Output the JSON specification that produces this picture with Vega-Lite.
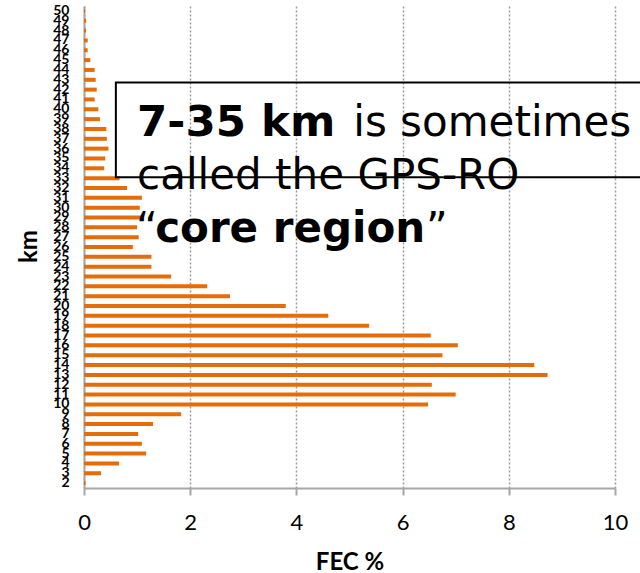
{
  "$schema": "https://vega.github.io/schema/vega-lite/v6.json",
  "width": 531,
  "height": 482,
  "autosize": {"type": "none"},
  "padding": {"left": 84, "top": 6, "right": 25, "bottom": 85},
  "background": "white",
  "config": {"view": {"stroke": null}, "font": "Lato", "axis": {"labelOverlap": false}},
  "resolve": {"scale": {"y": "independent"}, "axis": {"y": "independent"}},
  "layer": [
    {
      "data": {"values": [
        {"km": 2, "fec": 0.03}, {"km": 3, "fec": 0.32}, {"km": 4, "fec": 0.66}, {"km": 5, "fec": 1.17},
        {"km": 6, "fec": 1.09}, {"km": 7, "fec": 1.02}, {"km": 8, "fec": 1.30}, {"km": 9, "fec": 1.83},
        {"km": 10, "fec": 6.48}, {"km": 11, "fec": 7.00}, {"km": 12, "fec": 6.55}, {"km": 13, "fec": 8.73},
        {"km": 14, "fec": 8.48}, {"km": 15, "fec": 6.75}, {"km": 16, "fec": 7.04}, {"km": 17, "fec": 6.53},
        {"km": 18, "fec": 5.37}, {"km": 19, "fec": 4.60}, {"km": 20, "fec": 3.80}, {"km": 21, "fec": 2.75},
        {"km": 22, "fec": 2.32}, {"km": 23, "fec": 1.64}, {"km": 24, "fec": 1.27}, {"km": 25, "fec": 1.27},
        {"km": 26, "fec": 0.92}, {"km": 27, "fec": 1.03}, {"km": 28, "fec": 1.00}, {"km": 29, "fec": 1.07},
        {"km": 30, "fec": 1.05}, {"km": 31, "fec": 1.09}, {"km": 32, "fec": 0.81}, {"km": 33, "fec": 0.67},
        {"km": 34, "fec": 0.38}, {"km": 35, "fec": 0.40}, {"km": 36, "fec": 0.46}, {"km": 37, "fec": 0.43},
        {"km": 38, "fec": 0.42}, {"km": 39, "fec": 0.30}, {"km": 40, "fec": 0.27}, {"km": 41, "fec": 0.20},
        {"km": 42, "fec": 0.24}, {"km": 43, "fec": 0.22}, {"km": 44, "fec": 0.20}, {"km": 45, "fec": 0.12},
        {"km": 46, "fec": 0.07}, {"km": 47, "fec": 0.07}, {"km": 48, "fec": 0.04}, {"km": 49, "fec": 0.04},
        {"km": 50, "fec": 0.02}
      ]},
      "mark": {"type": "bar", "height": 4, "color": "#E46C0A"},
      "encoding": {
        "x": {
          "field": "fec", "type": "quantitative",
          "scale": {"domain": [0, 10], "nice": false},
          "axis": {
            "values": [0, 2, 4, 6, 8, 10],
            "title": "FEC %",
            "titleFont": "Lato", "titleFontSize": 24, "titleFontWeight": "bold", "titleColor": "black",
            "titleY": 81, "titleBaseline": "alphabetic",
            "labelFont": "Lato", "labelFontSize": 22, "labelColor": "black", "labelPadding": 17,
            "labelFlush": false,
            "grid": true, "gridColor": "#9a9a9a", "gridDash": [2, 2], "gridWidth": 1.5,
            "domainColor": "#a6a6a6", "domainWidth": 2,
            "ticks": true, "tickColor": "#a6a6a6", "tickWidth": 2, "tickSize": 7
          }
        },
        "y": {
          "field": "km", "type": "ordinal", "sort": "descending",
          "scale": {"paddingInner": 0, "paddingOuter": 0},
          "axis": {
            "labelOverlap": false,
            "title": "km",
            "titleFont": "Lato", "titleFontSize": 24, "titleFontWeight": "bold", "titleColor": "black",
            "titleX": -55, "titleY": 240, "titleAngle": 270, "titleAlign": "center", "titleBaseline": "middle",
            "labelFont": "Lato", "labelFontSize": 14, "labelFontWeight": "bold", "labelColor": "black",
            "labelPadding": 15,
            "grid": false, "ticks": false, "tickSize": 0,
            "domainColor": "#a6a6a6", "domainWidth": 2
          }
        }
      }
    },
    {
      "layer": [
        {
          "data": {"values": [{}]},
          "mark": {"type": "rect", "fillOpacity": 0, "stroke": "black", "strokeWidth": 2},
          "encoding": {
            "x": {"datum": 0.6, "type": "quantitative"},
            "x2": {"datum": 11},
            "y": {"datum": 42.73, "type": "quantitative", "scale": {"domain": [1.5, 50.5], "nice": false, "zero": false}, "axis": null},
            "y2": {"datum": 33.1}
          }
        },
        {
          "data": {"values": [{"label": "7-35 km"}]},
          "mark": {"type": "text", "font": "DejaVu Sans", "fontSize": 43.5, "fontWeight": "bold", "align": "left", "baseline": "alphabetic", "color": "black"},
          "encoding": {
            "x": {"datum": 1.0, "type": "quantitative"},
            "y": {"datum": 37.28, "type": "quantitative", "scale": {"domain": [1.5, 50.5], "nice": false, "zero": false}, "axis": null},
            "text": {"field": "label"}
          }
        },
        {
          "data": {"values": [{"label": "is sometimes"}]},
          "mark": {"type": "text", "font": "DejaVu Sans", "fontSize": 42, "fontWeight": "normal", "align": "left", "baseline": "alphabetic", "color": "black"},
          "encoding": {
            "x": {"datum": 5.07, "type": "quantitative"},
            "y": {"datum": 37.28, "type": "quantitative", "scale": {"domain": [1.5, 50.5], "nice": false, "zero": false}, "axis": null},
            "text": {"field": "label"}
          }
        },
        {
          "data": {"values": [{"label": "called the GPS-RO"}]},
          "mark": {"type": "text", "font": "DejaVu Sans", "fontSize": 42, "fontWeight": "normal", "align": "left", "baseline": "alphabetic", "color": "black"},
          "encoding": {
            "x": {"datum": 1.0, "type": "quantitative"},
            "y": {"datum": 31.9, "type": "quantitative", "scale": {"domain": [1.5, 50.5], "nice": false, "zero": false}, "axis": null},
            "text": {"field": "label"}
          }
        },
        {
          "data": {"values": [{"label": "“"}]},
          "mark": {"type": "text", "font": "DejaVu Sans", "fontSize": 42, "fontWeight": "normal", "align": "left", "baseline": "alphabetic", "color": "black"},
          "encoding": {
            "x": {"datum": 0.98, "type": "quantitative"},
            "y": {"datum": 26.5, "type": "quantitative", "scale": {"domain": [1.5, 50.5], "nice": false, "zero": false}, "axis": null},
            "text": {"field": "label"}
          }
        },
        {
          "data": {"values": [{"label": "core region"}]},
          "mark": {"type": "text", "font": "DejaVu Sans", "fontSize": 42, "fontWeight": "bold", "align": "left", "baseline": "alphabetic", "color": "black"},
          "encoding": {
            "x": {"datum": 1.34, "type": "quantitative"},
            "y": {"datum": 26.5, "type": "quantitative", "scale": {"domain": [1.5, 50.5], "nice": false, "zero": false}, "axis": null},
            "text": {"field": "label"}
          }
        },
        {
          "data": {"values": [{"label": "”"}]},
          "mark": {"type": "text", "font": "DejaVu Sans", "fontSize": 42, "fontWeight": "normal", "align": "left", "baseline": "alphabetic", "color": "black"},
          "encoding": {
            "x": {"datum": 6.44, "type": "quantitative"},
            "y": {"datum": 26.5, "type": "quantitative", "scale": {"domain": [1.5, 50.5], "nice": false, "zero": false}, "axis": null},
            "text": {"field": "label"}
          }
        }
      ]
    }
  ]
}
